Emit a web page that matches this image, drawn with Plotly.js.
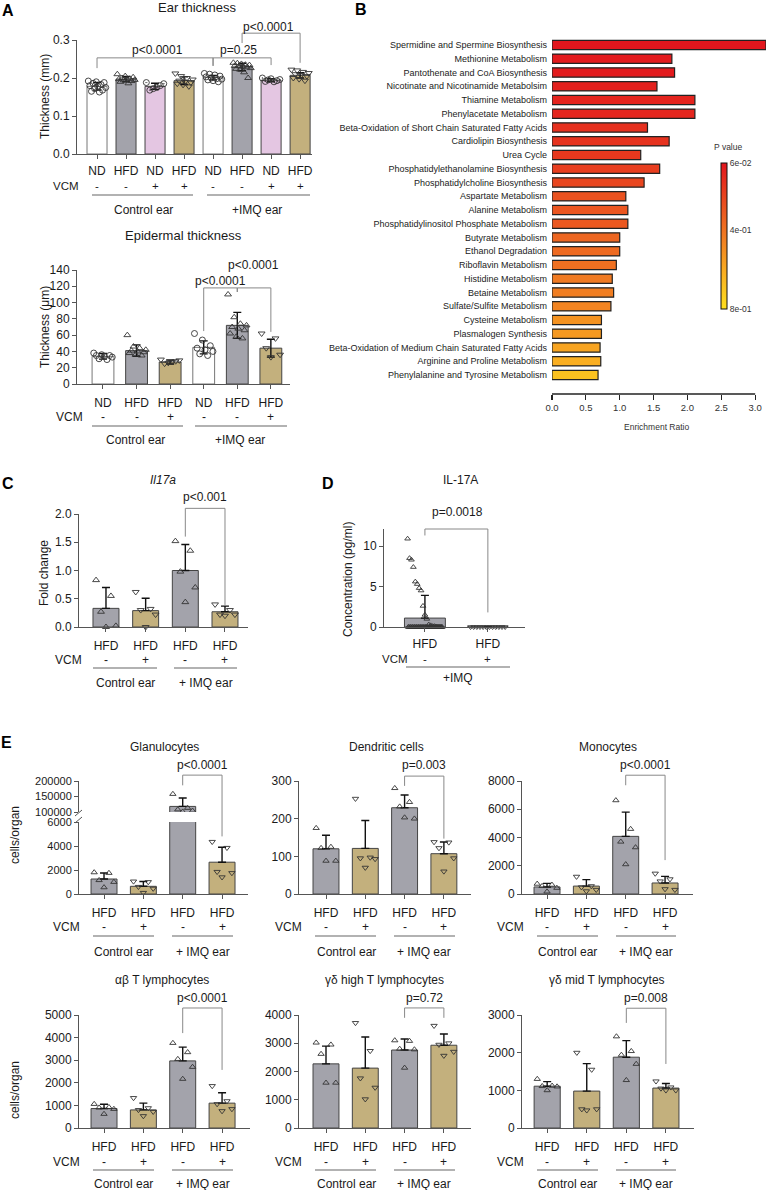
<!DOCTYPE html>
<html><head><meta charset="utf-8">
<script src="https://cdn.plot.ly/plotly-3.0.1.min.js"></script>
<style>html,body{margin:0;padding:0;background:#fff}#chart{width:767px;height:1190px}</style>
</head><body><div id="chart"></div>
<script>
// ================= DATA =================
// Panel A – Ear thickness (mm)
const earGroups = ['ND','HFD','ND','HFD','ND','HFD','ND','HFD'];
const earVCM = ['-','-','+','+','-','-','+','+'];
const earMean = [0.178,0.197,0.178,0.193,0.201,0.229,0.194,0.207];
const earSD = [0.010,0.007,0.008,0.010,0.006,0.010,0.004,0.007];
const earPoints = [
  [0.192,0.19,0.188,0.186,0.183,0.18,0.178,0.175,0.172,0.168,0.165,0.163],
  [0.21,0.205,0.202,0.2,0.198,0.197,0.196,0.195,0.194,0.192,0.19,0.186],
  [0.188,0.185,0.18,0.175,0.172,0.168],
  [0.212,0.205,0.2,0.196,0.193,0.19,0.188,0.185,0.182,0.178],
  [0.212,0.21,0.208,0.205,0.203,0.2,0.198,0.197,0.195,0.193,0.19],
  [0.24,0.239,0.237,0.235,0.234,0.232,0.231,0.23,0.228,0.226,0.224,0.222,0.215,0.2],
  [0.2,0.198,0.196,0.195,0.193,0.191,0.19],
  [0.222,0.22,0.216,0.213,0.21,0.207,0.205,0.2,0.197,0.193]
];
// Panel A – Epidermal thickness (µm)
const epiGroups = ['ND','HFD','HFD','ND','HFD','HFD'];
const epiVCM = ['-','-','+','-','-','+'];
const epiMean = [34,41,27,45,72,44];
const epiSD = [3.5,7,2.5,8,16,11];
const epiPoints = [
  [38,36,35,35,34,33,31,30],
  [60,46,44,42,41,40,39,38,36,35],
  [30,29,28,27,26,25],
  [62,54,47,44,42,40,37,35],
  [110,82,74,72,70,68,66,62,58,56],
  [62,56,44,36,33]
];
// Panel B – pathway enrichment
const pathways = ['Spermidine and Spermine Biosynthesis','Methionine Metabolism','Pantothenate and CoA Biosynthesis','Nicotinate and Nicotinamide Metabolsim','Thiamine Metabolism','Phenylacetate Metabolism','Beta-Oxidation of Short Chain Saturated Fatty Acids','Cardiolipin Biosynthesis','Urea Cycle','Phosphatidylethanolamine Biosynthesis','Phosphatidylcholine Biosynthesis','Aspartate Metabolism','Alanine Metabolism','Phosphatidylinositol Phosphate Metabolism','Butyrate Metabolism','Ethanol Degradation','Riboflavin Metabolism','Histidine Metabolism','Betaine Metabolism','Sulfate/Sulfite Metabolism','Cysteine Metabolism','Plasmalogen Synthesis','Beta-Oxidation of Medium Chain Saturated Fatty Acids','Arginine and Proline Metabolism','Phenylalanine and Tyrosine Metabolism'];
const enrichment = [3.16,1.77,1.81,1.55,2.11,2.11,1.41,1.73,1.31,1.59,1.36,1.09,1.12,1.12,1.00,1.00,0.95,0.89,0.91,0.87,0.73,0.73,0.71,0.72,0.68];
const pValues = [0.06,0.075,0.08,0.097,0.112,0.12,0.156,0.164,0.186,0.208,0.238,0.282,0.297,0.304,0.356,0.371,0.393,0.43,0.445,0.467,0.519,0.541,0.578,0.615,0.689];
const pTickVals = [0.06,0.4,0.8];
const pTickText = ['6e-02','4e-01','8e-01'];
const enrichTicks = [0,0.5,1,1.5,2,2.5,3];
// Panel C – Il17a fold change
const il17Groups = ['HFD','HFD','HFD','HFD'];
const il17VCM = ['-','+','-','+'];
const il17Mean = [0.33,0.29,1.00,0.27];
const il17SD = [0.37,0.22,0.46,0.10];
const il17Points = [[0.83,0.55,0.27,0.02,0.0],[0.62,0.32,0.3,0.22,0.0],[1.52,1.35,0.98,0.7,0.44],[0.4,0.3,0.22,0.22,0.2]];
// Panel D – IL-17A concentration (pg/ml)
const protGroups = ['HFD','HFD'];
const protVCM = ['-','+'];
const protMean = [1.1,0.0];
const protSD = [2.8,0.0];
const protPoints = [
  [10.9,8.5,8.3,7.4,5.6,5.3,4.8,4.5,2.6,1.5,1.0,0.3,0.2,0.1,0.1,0.05,0,0,0,0,0,0,0,0,0,0,0,0,0,0,0,0,0,0,0,0,0,0,0,0,0,0,0,0,0,0,0,0,0,0,0,0,0,0,0],
  [0,0,0,0,0,0,0,0,0,0,0,0]
];
// Panel E – cells/organ
const eGroups = ['HFD','HFD','HFD','HFD'];
const eVCM = ['-','+','-','+'];
const granMean = [1250,640,118000,2650];
const granSD = [500,400,27000,1250];
const granPoints = [[1800,1750,1150,1000,550],[1050,1000,600,450,100],[158000,113000,108000,104000,101000],[4350,3850,1850,1750,1400]];
const dcMean = [120,121,229,107];
const dcSD = [36,74,34,31];
const dcPoints = [[175,125,122,88,88],[253,97,95,93,70],[281,244,232,200,203],[138,137,122,95,60]];
const monoMean = [500,560,4080,780];
const monoSD = [250,460,1720,470];
const monoPoints = [[720,650,560,430,170],[1230,560,480,300,200],[6630,4600,3700,3300,2100],[1450,1050,900,300,350]];
const abMean = [860,800,2970,1100];
const abSD = [190,300,610,460];
const abPoints = [[1060,920,900,840,620],[1330,880,800,720,530],[3760,3350,3050,2700,2170],[1860,1190,1060,840,750]];
const gdHiMean = [2270,2120,2760,2930];
const gdHiSD = [630,1100,390,400];
const gdHiPoints = [[3020,2950,2620,1600,1600],[3720,2730,1760,1430,1020],[3100,3080,2800,2780,2130],[3620,3000,2950,2700,2560]];
const gdMidMean = [1110,980,1880,1060];
const gdMidSD = [120,730,440,120];
const gdMidPoints = [[1300,1120,1110,1100,1000],[2000,1550,500,500,470],[2430,2040,1940,1700,1270],[1240,1080,1050,1000,1000]];

// ================= BUILD =================
const W=767,H=1190;
const FONT='"Liberation Sans", Arial, Helvetica, sans-serif';
const INK='#1a1a1a', AXC='#555', GREY='#a3a3ab', TAN='#c3b07d', PINK='#e4c6e2', WHITE='#ffffff';
const data=[], shapes=[], annotations=[];
const layout={width:W,height:H,margin:{l:0,r:0,t:0,b:0},paper_bgcolor:'#fff',plot_bgcolor:'rgba(0,0,0,0)',
  showlegend:false,font:{family:FONT,size:12,color:INK},shapes,annotations};
let nAx=0;
const fx=px=>px/W, fy=py=>1-py/H;
function txt(text,x,y,o={}){annotations.push({text,x:fx(x),y:fy(y),xref:'paper',yref:'paper',showarrow:false,
  xanchor:o.xa||'center',yanchor:o.ya||'middle',textangle:o.angle||0,borderpad:0,
  font:{family:FONT,size:o.size||12,color:o.color||INK}});}
function line(x0,y0,x1,y1,color,w){shapes.push({type:'line',xref:'paper',yref:'paper',x0:fx(x0),y0:fy(y0),x1:fx(x1),y1:fy(y1),line:{color:color||'#888',width:w||1}});}
function axes(l,r,t,b,xr,yr){
  nAx++; const s=nAx===1?'':String(nAx);
  const xa={domain:[fx(l),fx(r)],range:xr,anchor:'y'+s,showgrid:false,zeroline:false,type:'linear',fixedrange:true};
  const ya={domain:[fy(b),fy(t)],range:yr,anchor:'x'+s,showgrid:false,zeroline:false,type:'linear',fixedrange:true};
  layout['xaxis'+s]=xa; layout['yaxis'+s]=ya;
  return {x:'x'+s,y:'y'+s,xa,ya,X:v=>l+(v-xr[0])/(xr[1]-xr[0])*(r-l),Y:v=>b-(v-yr[0])/(yr[1]-yr[0])*(b-t)};
}
function gcd(a,b){return b?gcd(b,a%b):a;}
function spreadOffsets(n,spread){
  if(n===1) return [0];
  const m=[3,5,7,11,13].find(k=>gcd(k,n)===1);
  return Array.from({length:n},(_,j)=>(((j*m)%n)/(n-1)-0.5)*spread);
}
function barPanel(p){
  const idx=p.mean.map((_,i)=>i);
  const segs=p.segments||[{t:p.t,b:p.b,yr:p.yr,yticks:p.yticks}];
  const err=p.bothSD?{type:'data',array:p.sd,symmetric:true,visible:true,color:'#111',thickness:1.4,width:4}
    :{type:'data',array:p.sd,arrayminus:p.sd.map(()=>0),symmetric:false,visible:true,color:'#111',thickness:1.4,width:4};
  const A=segs.map((s,k)=>{
    const a=axes(p.l,p.r,s.t,s.b,p.xr,s.yr);
    if(k===0){Object.assign(a.xa,{tickvals:idx,ticktext:p.groups,ticks:'outside',ticklen:4,tickwidth:1,tickcolor:AXC,
      showline:true,linecolor:AXC,linewidth:1,tickfont:{size:12,color:INK},ticklabelstandoff:p.xStandoff!==undefined?p.xStandoff:4,tickangle:0});}
    else a.xa.visible=false;
    Object.assign(a.ya,{tickvals:s.yticks,tickformat:p.yfmt||'d',ticks:'outside',ticklen:4,tickwidth:1,tickcolor:AXC,
      showline:true,linecolor:AXC,linewidth:1,tickfont:{size:p.yTickSize||12,color:INK}});
    data.push({type:'bar',x:idx,y:p.mean,xaxis:a.x,yaxis:a.y,width:p.barW,
      marker:{color:p.colors,line:{color:p.colors.map(c=>c===WHITE?'#777':'#444'),width:1}},error_y:err});
    p.points.forEach((pts,i)=>{
      const off=spreadOffsets(pts.length,p.spread);
      data.push({type:'scatter',mode:'markers',x:pts.map((_,j)=>i+off[j]),y:pts,xaxis:a.x,yaxis:a.y,
        cliponaxis:segs.length>1,marker:{symbol:p.symbols[i],size:p.msize,color:'#333',line:{width:0.9,color:'#333'}}});
    });
    return a;
  });
  const X=A[0].X;
  const Y=segs.length>1?(v=>v>=segs[1].yr[0]?A[1].Y(v):A[0].Y(v)):A[0].Y;
  if(p.title) txt(p.title.text,p.title.x,p.title.y,{size:p.title.size||12});
  if(p.ytitle) txt(p.ytitle.text,p.ytitle.x,p.ytitle.y,{angle:-90,size:12});
  const vs=p.vcmSize||12;
  txt('VCM',p.vcmX,p.vcmY,{size:vs});
  p.vcm.forEach((s,i)=>txt(s,X(i),p.vcmY,{size:vs}));
  p.spans.forEach(sp=>{line(sp[0],p.lineY,sp[1],p.lineY,'#999',1.4); txt(sp[2],sp[3],p.groupY);});
  (p.brackets||[]).forEach(b=>{
    const x0=X(b.i0),x1=X(b.i1),yt=Y(b.top);
    line(x0,Y(b.e0),x0,yt); line(x0,yt,x1,yt); line(x1,yt,x1,Y(b.e1));
    txt(b.label,b.lx!==undefined?b.lx:(x0+x1)/2,b.ly);
  });
  if(segs.length>1){ // axis break marks
    const bx=p.l, ym=(segs[0].t+segs[1].b)/2;
    line(bx-4,ym-1,bx+3,ym-7,AXC,1); line(bx-4,ym+6,bx+3,ym,AXC,1);
  }
}
const S4=['triangle-up-open','triangle-down-open','triangle-up-open','triangle-down-open'];
const C4=[GREY,TAN,GREY,TAN];
// ---- Panel A
barPanel({l:77,r:312,t:40,b:154,xr:[-0.69,7.41],yr:[0,0.3],yticks:[0,0.1,0.2,0.3],yfmt:'.1f',
  groups:earGroups,vcm:earVCM,mean:earMean,sd:earSD,points:earPoints,bothSD:true,xStandoff:2,vcmSize:11.5,
  colors:[WHITE,GREY,PINK,TAN,WHITE,GREY,PINK,TAN],
  symbols:['circle-open','triangle-up-open','circle-open-dot','triangle-down-open','circle-open','triangle-up-open','circle-open-dot','triangle-down-open'],
  barW:0.69,spread:0.6,msize:6,title:{text:'Ear thickness',x:197,y:8,size:13},ytitle:{text:'Thickness (mm)',x:45,y:97},
  vcmY:186,vcmX:66,lineY:195,groupY:210,spans:[[92,193,'Control ear',143],[207,310,'+IMQ ear',257]],
  brackets:[{i0:0,i1:4,top:0.253,e0:0.226,e1:0.232,label:'p<0.0001',lx:157,ly:50},
            {i0:4,i1:6,top:0.253,e0:0.232,e1:0.234,label:'p=0.25',lx:238,ly:50},
            {i0:5,i1:7,top:0.318,e0:0.292,e1:0.24,label:'p<0.0001',lx:268,ly:27}]});
barPanel({l:77,r:290,t:270,b:384,xr:[-0.774,5.57],yr:[0,140],yticks:[0,20,40,60,80,100,120,140],
  groups:epiGroups,vcm:epiVCM,mean:epiMean,sd:epiSD,points:epiPoints,bothSD:true,
  colors:[WHITE,GREY,TAN,WHITE,GREY,TAN],
  symbols:['circle-open','triangle-up-open','triangle-down-open','circle-open','triangle-up-open','triangle-down-open'],
  barW:0.65,spread:0.55,msize:6,title:{text:'Epidermal thickness',x:183,y:236,size:13},ytitle:{text:'Thickness (μm)',x:45,y:327},
  vcmY:417,vcmX:69,lineY:426,groupY:440,spans:[[92,183,'Control ear',135],[195,287,'+IMQ ear',240]],
  brackets:[{i0:3,i1:4,top:118,e0:65,e1:113,label:'p<0.0001',lx:220,ly:281},
            {i0:4,i1:5,top:118,e0:113,e1:64,label:'p<0.0001',lx:253,ly:265}]});
// ---- Panel C
barPanel({l:79,r:248,t:514,b:627,xr:[-0.68,3.58],yr:[0,2],yticks:[0,0.5,1,1.5,2],yfmt:'.1f',
  groups:il17Groups,vcm:il17VCM,mean:il17Mean,sd:il17SD,points:il17Points,colors:C4,symbols:S4,
  barW:0.655,spread:0.5,msize:6,title:{text:'<i>Il17a</i>',x:163,y:480},ytitle:{text:'Fold change',x:44,y:573},
  vcmY:660,vcmX:68,lineY:668,groupY:683,spans:[[93,157,'Control ear',125],[174,237,'+ IMQ ear',206]],
  brackets:[{i0:2,i1:3,top:2.1,e0:1.6,e1:0.39,label:'p<0.001',lx:205,ly:497}]});
// ---- Panel D
barPanel({l:384,r:525,t:529,b:627,xr:[-0.65,1.59],yr:[0,12.1],yticks:[0,5,10],
  groups:protGroups,vcm:protVCM,mean:protMean,sd:protSD,points:protPoints,colors:[GREY,TAN],
  symbols:['triangle-up-open','triangle-down-open'],xStandoff:2,vcmSize:11.5,
  barW:0.65,spread:0.55,msize:5,title:{text:'IL-17A',x:460,y:480},ytitle:{text:'Concentration (pg/ml)',x:348,y:580},
  vcmY:659,vcmX:395,lineY:667,groupY:678,spans:[[406,510,'+IMQ',458]],
  brackets:[{i0:0,i1:1,top:12.1,e0:11.3,e1:1.8,label:'p=0.0018',lx:457,ly:512}]});
// ---- Panel E (top row)
const eTop={vcmY:927,lineY:936,groupY:952}, eBot={vcmY:1162,lineY:1170,groupY:1184};
const colL={l:79,r:248,xr:[-0.636,3.66],vcmX:66,spans:[[93,154,'Control ear',123],[172,233,'+ IMQ ear',203]]};
const colM={l:299,r:471,xr:[-0.687,3.69],vcmX:288,spans:[[315,376,'Control ear',346],[394,455,'+ IMQ ear',424]]};
const colR={l:522,r:693,xr:[-0.636,3.71],vcmX:510,spans:[[537,598,'Control ear',567],[616,676,'+ IMQ ear',646]]};
const eCommon={groups:eGroups,vcm:eVCM,colors:C4,symbols:S4,barW:0.66,spread:0.5,msize:5.5};
barPanel(Object.assign({},eCommon,colL,eTop,{mean:granMean,sd:granSD,points:granPoints,yTickSize:11,
  segments:[{t:822,b:894,yr:[0,6000],yticks:[0,2000,4000,6000]},{t:781,b:812,yr:[100000,200000],yticks:[100000,150000,200000]}],
  title:{text:'Glanulocytes',x:164,y:747},ytitle:{text:'cells/organ',x:15,y:835},
  brackets:[{i0:2,i1:3,top:219000,e0:186000,e1:4800,label:'p<0.0001',ly:765}]}));
barPanel(Object.assign({},eCommon,colM,eTop,{t:781,b:894,yr:[0,300],yticks:[0,100,200,300],mean:dcMean,sd:dcSD,points:dcPoints,
  title:{text:'Dendritic cells',x:386,y:747},
  brackets:[{i0:2,i1:3,top:313,e0:287,e1:147,label:'p=0.003',ly:765}]}));
barPanel(Object.assign({},eCommon,colR,eTop,{t:781,b:894,yr:[0,8000],yticks:[0,2000,4000,6000,8000],mean:monoMean,sd:monoSD,points:monoPoints,
  title:{text:'Monocytes',x:608,y:747},
  brackets:[{i0:2,i1:3,top:8410,e0:7700,e1:2400,label:'p<0.0001',ly:765}]}));
// ---- Panel E (bottom row)
barPanel(Object.assign({},eCommon,colL,eBot,{r:250,xr:[-0.636,3.71],t:1015,b:1128,yr:[0,5000],yticks:[0,1000,2000,3000,4000,5000],mean:abMean,sd:abSD,points:abPoints,
  title:{text:'αβ T lymphocytes',x:162,y:980},ytitle:{text:'cells/organ',x:15,y:1090},
  brackets:[{i0:2,i1:3,top:5310,e0:4200,e1:2570,label:'p<0.0001',ly:998}]}));
barPanel(Object.assign({},eCommon,colM,eBot,{t:1015,b:1128,yr:[0,4000],yticks:[0,1000,2000,3000,4000],mean:gdHiMean,sd:gdHiSD,points:gdHiPoints,
  title:{text:'γδ high T lymphocytes',x:384,y:980},
  brackets:[{i0:2,i1:3,top:4250,e0:3900,e1:3900,label:'p=0.72',ly:998}]}));
barPanel(Object.assign({},eCommon,colR,eBot,{r:694,t:1015,b:1128,yr:[0,3000],yticks:[0,1000,2000,3000],mean:gdMidMean,sd:gdMidSD,points:gdMidPoints,
  title:{text:'γδ mid T lymphocytes',x:607,y:980},
  brackets:[{i0:2,i1:3,top:3180,e0:2790,e1:1700,label:'p=0.008',ly:998}]}));

// ---- Panel B (enrichment)
(function(){
  const pIdx=pathways.map((_,i)=>i);
  const a=axes(552,766,35,394,[0,3.16],[25.38,-0.727]);
  Object.assign(a.xa,{tickvals:enrichTicks,tickformat:'.1f',ticks:'outside',ticklen:5,tickwidth:1.2,tickcolor:'#222',
    showline:false,tickfont:{size:9.5,color:'#333'}});
  Object.assign(a.ya,{tickvals:pIdx,ticktext:pathways,ticks:'',showline:false,tickfont:{size:9,color:'#222'},ticklabelstandoff:4});
  const cmin=-Math.max(...pTickVals), cmax=-Math.min(...pTickVals);
  data.push({type:'bar',orientation:'h',y:pIdx,x:enrichment,xaxis:a.x,yaxis:a.y,width:0.68,
    marker:{color:pValues.map(v=>-v),cmin,cmax,
      colorscale:[[0,'#FFE01F'],[0.25,'#F9AE21'],[0.5,'#F07A22'],[0.75,'#E9481F'],[1,'#E2161D']],
      line:{color:'#222',width:1.2},showscale:true,
      colorbar:{x:fx(721),xanchor:'left',y:fy(236),yanchor:'middle',len:146,lenmode:'pixels',thickness:6,thicknessmode:'pixels',
        outlinewidth:1,outlinecolor:'#111',tickvals:pTickVals.map(v=>-v),ticktext:pTickText,ticks:'',
        tickfont:{size:8.5,color:'#333'},xpad:0,ypad:0,borderwidth:0}}});
  const X=a.X;
  line(X(0),394,X(3),394,'#222',1.5);
  txt('Enrichment Ratio',656,427,{size:8.5,color:'#333'});
  txt('P value',728,147,{size:8.5,color:'#333'});
})();

// ---- Panel letters
txt('<b>A</b>',8,11,{size:16,color:'#000'});
txt('<b>B</b>',361,10,{size:16,color:'#000'});
txt('<b>C</b>',8,483,{size:16,color:'#000'});
txt('<b>D</b>',328,483,{size:16,color:'#000'});
txt('<b>E</b>',7,742,{size:16,color:'#000'});

Plotly.newPlot('chart',data,layout,{staticPlot:true,displayModeBar:false});
</script></body></html>
